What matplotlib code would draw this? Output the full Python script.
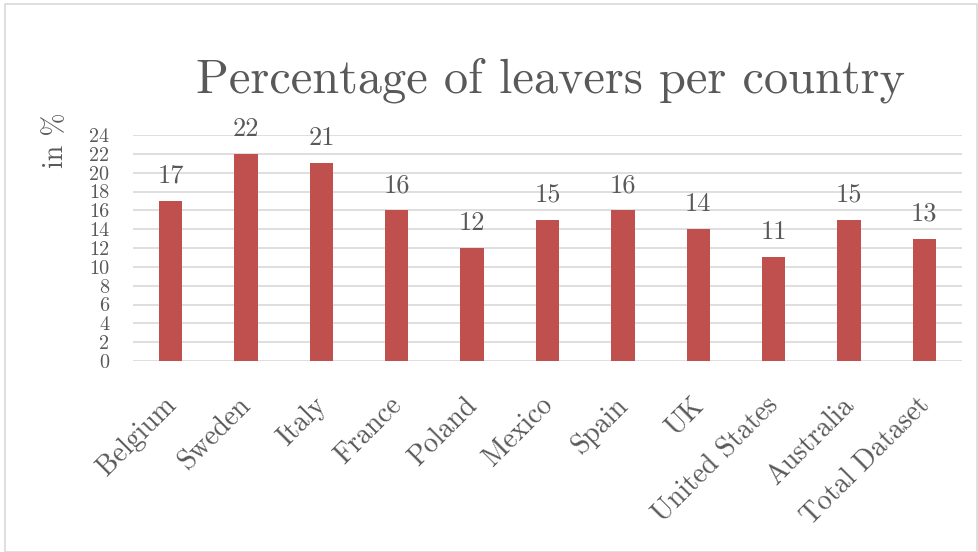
import matplotlib
matplotlib.use("Agg")
import matplotlib.pyplot as plt
from matplotlib.patches import Rectangle
from matplotlib.transforms import offset_copy

countries = ["Belgium", "Sweden", "Italy", "France", "Poland", "Mexico",
             "Spain", "UK", "United States", "Australia", "Total Dataset"]
leavers_pct = [17, 22, 21, 16, 12, 15, 16, 14, 11, 15, 13]
yticks = list(range(0, 25, 2))

plt.rcParams['font.family'] = ['cmr10', 'DejaVu Serif']
plt.rcParams['axes.formatter.use_mathtext'] = True
plt.rcParams['mathtext.fontset'] = 'cm'

W, H = 979, 552
fig = plt.figure(figsize=(W / 100, H / 100), dpi=100)
fig.patch.set_facecolor('white')
fig.patches.append(Rectangle((5 / W, 0.5 / H), (W - 7) / W, (H - 4) / H,
                             transform=fig.transFigure, fill=False,
                             edgecolor='#D9D9D9', linewidth=1.2))

ax = fig.add_axes([133 / W, 191 / H, 829 / W, 226 / H])
x = list(range(len(countries)))
ax.bar(x, leavers_pct, width=0.31, color='#C0504D', zorder=3)
ax.set_xlim(-0.5, len(countries) - 0.5)
ax.set_ylim(0, 24)
ax.set_yticks(yticks)
ax.set_yticklabels([str(v) for v in yticks], fontsize=14.5, color='#595959')
ax.grid(axis='y', color='#D9D9D9', linewidth=1.2, zorder=0)
for s in ax.spines.values():
    s.set_visible(False)
ax.tick_params(axis='both', length=0)
ax.tick_params(axis='y', pad=17)
ax.set_xticks(x)
ax.set_xticklabels([])

# rotated category labels
lbl_tr = offset_copy(ax.get_xaxis_transform(), fig=fig, x=1, y=-29, units='points')
for xi, name in zip(x, countries):
    ax.text(xi, 0, name, transform=lbl_tr, rotation=45, ha='right', va='center',
            rotation_mode='anchor', fontsize=20, color='#595959')

for xi, v in zip(x, leavers_pct):
    ax.annotate(str(v), (xi, v), xytext=(0, 13), textcoords='offset points',
                ha='center', va='baseline', fontsize=19, color='#595959')

fig.text(551 / W, 1 - 80 / H, "Percentage of leavers per country",
         ha='center', va='center', fontsize=34.8, color='#595959')
fig.text(56 / W, 1 - 140 / H, "in %", rotation=90, ha='center', va='center',
         fontsize=20, color='#595959')

fig.savefig("out.png", dpi=100)
